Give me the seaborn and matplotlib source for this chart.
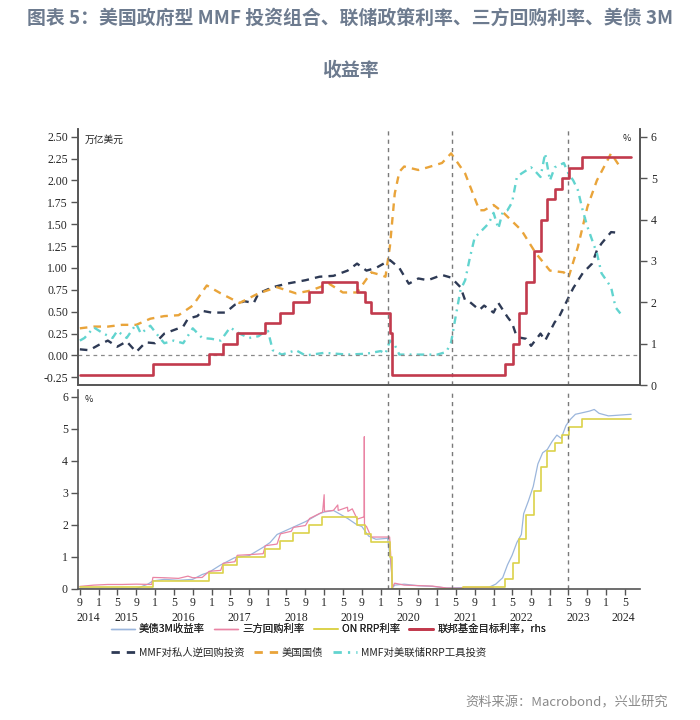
import pandas as pd
import matplotlib.pyplot as plt
import matplotlib.dates as mdates
import matplotlib.transforms as mtransforms
from matplotlib.lines import Line2D
import seaborn as sns

# --- dados ---

# MMF对私人逆回购投资 (万亿美元)
private_dates = ["2014-09", "2014-11", "2015-01", "2015-03", "2015-05", "2015-07", "2015-09", "2015-11",
                 "2016-01", "2016-03", "2016-05", "2016-07", "2016-08", "2016-10", "2016-11", "2017-01",
                 "2017-04", "2017-06", "2017-08", "2017-10", "2017-11", "2018-02", "2018-05", "2018-09",
                 "2018-12", "2019-03", "2019-06", "2019-08", "2019-10", "2019-12", "2020-03", "2020-05",
                 "2020-07", "2020-09", "2020-11", "2021-02", "2021-04", "2021-06", "2021-07", "2021-08",
                 "2021-10", "2021-11", "2022-01", "2022-02", "2022-04", "2022-05", "2022-06", "2022-08",
                 "2022-09", "2022-11", "2022-12", "2023-02", "2023-03", "2023-05", "2023-06", "2023-08",
                 "2023-10", "2023-11", "2023-12", "2024-02", "2024-04"]
private_vals = [0.07, 0.06, 0.12, 0.17, 0.10, 0.16, 0.04, 0.15,
                0.14, 0.25, 0.29, 0.33, 0.42, 0.45, 0.51, 0.49,
                0.49, 0.58, 0.62, 0.60, 0.71, 0.78, 0.82, 0.86,
                0.90, 0.91, 0.97, 1.05, 0.97, 1.00, 1.09, 1.00,
                0.82, 0.88, 0.86, 0.92, 0.89, 0.78, 0.63, 0.61,
                0.52, 0.57, 0.49, 0.60, 0.44, 0.37, 0.21, 0.19,
                0.11, 0.25, 0.17, 0.38, 0.44, 0.66, 0.77, 0.94,
                1.05, 1.20, 1.28, 1.41, 1.40]

# 美国国债 (万亿美元)
tsy_dates = ["2014-09", "2014-12", "2015-03", "2015-06", "2015-09", "2015-12", "2016-03", "2016-06",
             "2016-09", "2016-12", "2017-03", "2017-07", "2017-11", "2018-03", "2018-07", "2018-10",
             "2019-02", "2019-05", "2019-08", "2019-11", "2020-01", "2020-02", "2020-03", "2020-04",
             "2020-05", "2020-06", "2020-09", "2020-11", "2021-02", "2021-04", "2021-07", "2021-10",
             "2021-11", "2022-01", "2022-03", "2022-07", "2022-10", "2023-01", "2023-04", "2023-05",
             "2023-07", "2023-09", "2023-11", "2024-02", "2024-04"]
tsy_vals = [0.31, 0.33, 0.33, 0.35, 0.35, 0.42, 0.45, 0.46,
            0.57, 0.80, 0.71, 0.60, 0.71, 0.78, 0.71, 0.74,
            0.82, 0.72, 0.72, 0.95, 0.92, 0.90, 1.25, 1.85,
            2.10, 2.16, 2.12, 2.15, 2.20, 2.31, 2.08, 1.66,
            1.66, 1.72, 1.64, 1.43, 1.17, 0.97, 0.95, 0.89,
            1.24, 1.70, 2.00, 2.31, 2.15]

# MMF对美联储RRP工具投资 (万亿美元)
rrp_dates = ["2014-09", "2014-10", "2014-12", "2015-02", "2015-04", "2015-05", "2015-07", "2015-09",
             "2015-10", "2015-12", "2016-02", "2016-03", "2016-05", "2016-07", "2016-09", "2016-11",
             "2017-01", "2017-03", "2017-05", "2017-07", "2017-09", "2017-11", "2017-12", "2018-01",
             "2018-02", "2018-04", "2018-07", "2018-09", "2019-01", "2019-06", "2019-10", "2020-01",
             "2020-02", "2020-03", "2020-04", "2020-05", "2020-09", "2021-01", "2021-03", "2021-04",
             "2021-05", "2021-06", "2021-07", "2021-08", "2021-09", "2021-10", "2021-12", "2022-01",
             "2022-02", "2022-03", "2022-04", "2022-05", "2022-06", "2022-07", "2022-09", "2022-10",
             "2022-11", "2022-12", "2023-01", "2023-02", "2023-04", "2023-05", "2023-06", "2023-07",
             "2023-08", "2023-09", "2023-10", "2023-11", "2023-12", "2024-02", "2024-03", "2024-04"]
rrp_vals = [0.17, 0.20, 0.32, 0.25, 0.20, 0.28, 0.20, 0.36,
            0.25, 0.34, 0.20, 0.14, 0.17, 0.14, 0.31, 0.20,
            0.19, 0.17, 0.32, 0.25, 0.20, 0.22, 0.26, 0.28,
            0.06, 0.01, 0.06, 0.00, 0.03, 0.01, 0.02, 0.05,
            0.02, 0.17, 0.12, 0.01, 0.01, 0.01, 0.04, 0.15,
            0.45, 0.75, 0.86, 1.12, 1.35, 1.40, 1.51, 1.63,
            1.45, 1.64, 1.66, 1.75, 2.04, 2.08, 2.15, 2.10,
            2.04, 2.31, 2.00, 2.15, 2.20, 2.08, 2.00, 1.89,
            1.66, 1.47, 1.32, 1.17, 0.94, 0.78, 0.55, 0.48]

# 联邦基金目标利率 (上限, %, rhs)
ffr_dates = ["2014-09-01", "2015-12-17", "2016-12-15", "2017-03-16", "2017-06-15", "2017-12-14",
             "2018-03-22", "2018-06-14", "2018-09-27", "2018-12-20", "2019-08-01", "2019-09-19",
             "2019-10-31", "2020-03-04", "2020-03-16", "2022-03-17", "2022-05-05", "2022-06-16",
             "2022-07-28", "2022-09-22", "2022-11-03", "2022-12-15", "2023-02-02", "2023-03-23",
             "2023-05-04", "2023-07-27", "2024-06-10"]
ffr_vals = [0.25, 0.50, 0.75, 1.00, 1.25, 1.50,
            1.75, 2.00, 2.25, 2.50, 2.25, 2.00,
            1.75, 1.25, 0.25, 0.50, 1.00, 1.75,
            2.50, 3.25, 4.00, 4.50, 4.75, 5.00,
            5.25, 5.50, 5.50]

# ON RRP利率 (%)
onrrp_dates = ["2014-09-01", "2015-12-17", "2016-12-15", "2017-03-16", "2017-06-15", "2017-12-14",
               "2018-03-22", "2018-06-14", "2018-09-27", "2018-12-20", "2019-08-01", "2019-09-19",
               "2019-10-31", "2020-03-04", "2020-03-16", "2021-06-17", "2022-03-17", "2022-05-05",
               "2022-06-16", "2022-07-28", "2022-09-22", "2022-11-03", "2022-12-15", "2023-02-02",
               "2023-03-23", "2023-05-04", "2023-07-27", "2024-06-10"]
onrrp_vals = [0.05, 0.25, 0.50, 0.75, 1.00, 1.25,
              1.50, 1.75, 2.00, 2.25, 2.00, 1.70,
              1.45, 1.00, 0.00, 0.05, 0.30, 0.80,
              1.55, 2.30, 3.05, 3.80, 4.30, 4.55,
              4.80, 5.05, 5.30, 5.30]

# 三方回购利率 (%)
tgcr_dates = ["2014-09-01", "2014-12-01", "2015-03-01", "2015-06-01", "2015-09-01", "2015-12-10",
              "2015-12-18", "2016-03-01", "2016-06-01", "2016-08-01", "2016-09-01", "2016-11-01",
              "2016-12-16", "2017-03-01", "2017-03-17", "2017-06-01", "2017-06-16", "2017-09-01",
              "2017-12-01", "2017-12-15", "2018-03-01", "2018-03-23", "2018-06-01", "2018-06-15",
              "2018-09-01", "2018-09-28", "2018-12-21", "2018-12-31", "2019-01-02", "2019-03-01",
              "2019-03-29", "2019-04-01", "2019-05-31", "2019-06-03", "2019-07-01", "2019-08-02",
              "2019-09-16", "2019-09-17", "2019-09-18", "2019-10-01", "2019-11-01", "2020-02-28",
              "2020-03-05", "2020-03-17", "2020-04-01", "2020-06-01", "2020-12-01", "2021-03-01",
              "2021-06-01", "2021-06-18", "2021-12-31"]
tgcr_vals = [0.08, 0.12, 0.14, 0.14, 0.15, 0.14,
             0.36, 0.35, 0.33, 0.40, 0.35, 0.36,
             0.55, 0.58, 0.80, 0.85, 1.05, 1.07,
             1.10, 1.35, 1.40, 1.72, 1.80, 1.92,
             1.98, 2.20, 2.40, 2.94, 2.42, 2.45,
             2.62, 2.45, 2.55, 2.42, 2.50, 2.18,
             2.25, 4.75, 2.00, 1.95, 1.62, 1.62,
             1.15, 0.05, 0.18, 0.12, 0.09, 0.03,
             0.02, 0.05, 0.05]

# 美债3M收益率 (%)
bill_dates = ["2014-09-01", "2015-03-01", "2015-06-01", "2015-09-01", "2015-11-15", "2015-12-18",
              "2016-03-01", "2016-06-01", "2016-09-01", "2016-11-01", "2016-12-15", "2017-03-01",
              "2017-06-01", "2017-09-01", "2017-12-01", "2018-01-15", "2018-03-01", "2018-06-01",
              "2018-09-01", "2018-12-01", "2019-01-01", "2019-03-01", "2019-06-01", "2019-08-01",
              "2019-09-01", "2019-10-15", "2019-12-01", "2020-02-15", "2020-03-05", "2020-03-20",
              "2020-04-01", "2020-06-01", "2020-09-01", "2020-12-01", "2021-03-01", "2021-06-01",
              "2021-09-01", "2021-12-01", "2022-01-15", "2022-03-01", "2022-04-01", "2022-05-01",
              "2022-06-01", "2022-06-30", "2022-07-15", "2022-08-15", "2022-09-15", "2022-10-15",
              "2022-11-15", "2022-12-15", "2023-01-15", "2023-02-15", "2023-03-15", "2023-04-15",
              "2023-05-15", "2023-06-15", "2023-08-01", "2023-09-15", "2023-10-15", "2023-11-15",
              "2024-01-15", "2024-03-15", "2024-06-10"]
bill_vals = [0.02, 0.03, 0.02, 0.01, 0.15, 0.25,
             0.30, 0.27, 0.30, 0.45, 0.52, 0.75,
             0.98, 1.04, 1.30, 1.45, 1.70, 1.90,
             2.10, 2.35, 2.40, 2.45, 2.20, 2.00,
             1.95, 1.65, 1.55, 1.58, 0.90, 0.05,
             0.12, 0.15, 0.10, 0.08, 0.03, 0.04,
             0.04, 0.05, 0.15, 0.35, 0.75, 1.05,
             1.45, 1.70, 2.35, 2.75, 3.20, 3.90,
             4.25, 4.35, 4.60, 4.80, 4.70, 5.10,
             5.30, 5.45, 5.50, 5.55, 5.60, 5.48,
             5.40, 5.42, 5.45]

event_dates = ["2020-02-20", "2021-04-05", "2023-04-25"]
years = list(range(2014, 2025))

# --- estilo ---
sns.set_theme(style="white")
plt.rcParams['font.family'] = ['Noto Sans CJK SC', 'DejaVu Sans']

c_navy = "#2e3a55"
c_orange = "#e9a43a"
c_cyan = "#62d4cf"
c_red = "#c23a4d"
c_blue = "#9bb6dc"
c_pink = "#ea84a4"
c_yellow = "#dcd24a"
spine_c = "#555555"
tick_font = {'family': 'Liberation Serif', 'size': 8.5}

x_min = pd.Timestamp("2014-08-18")
x_max = pd.Timestamp("2024-08-05")

fig = plt.figure(figsize=(7, 7.2), dpi=100)
ax1 = fig.add_axes([0.111, 0.465, 0.803, 0.356])
ax2 = fig.add_axes([0.111, 0.182, 0.803, 0.276])
ax1r = ax1.twinx()

# ==============================================================================
# Painel superior
# ==============================================================================
dash_kw = dict(linewidth=1.7, ax=ax1)
sns.lineplot(x=pd.to_datetime(private_dates), y=private_vals, color=c_navy,
             linestyle=(0, (3.2, 2.6)), **dash_kw)
sns.lineplot(x=pd.to_datetime(tsy_dates), y=tsy_vals, color=c_orange,
             linestyle=(0, (3.2, 2.6)), **dash_kw)
sns.lineplot(x=pd.to_datetime(rrp_dates), y=rrp_vals, color=c_cyan,
             linestyle=(0, (3.2, 2.2, 0.8, 2.2)), **dash_kw)
sns.lineplot(x=pd.to_datetime(ffr_dates), y=ffr_vals, color=c_red, linewidth=1.9,
             drawstyle='steps-post', ax=ax1r)

ax1.axhline(0, color="#8a8a8a", linestyle=(0, (3, 3)), linewidth=0.9)
ax1.set_xlim(x_min, x_max)
ax1.set_ylim(-0.34, 2.59)
ax1.set_yticks([i * 0.25 - 0.25 for i in range(12)])
ax1.set_yticklabels([f"{i * 0.25 - 0.25:.2f}" for i in range(12)], fontdict=tick_font)
ax1r.set_ylim(0, 6.19)
ax1r.set_yticks(range(7))
ax1r.set_yticklabels([str(i) for i in range(7)], fontdict=tick_font)
ax1.set_xticks([])
ax1r.set_xlim(x_min, x_max)

for a in (ax1, ax1r):
    a.set_xlabel("")
    a.set_ylabel("")
    a.spines['top'].set_visible(False)
    for s in ('left', 'right', 'bottom'):
        a.spines[s].set_color(spine_c)
        a.spines[s].set_linewidth(1.2)
ax1.tick_params(axis='y', direction='out', length=5, width=1, color=spine_c, pad=2, left=True)
ax1r.tick_params(axis='y', direction='out', length=5, width=1, color=spine_c, pad=3, right=True)

ax1.text(0.012, 0.975, "万亿美元", transform=ax1.transAxes, fontsize=7, va='top', ha='left', color="#222222")
ax1r.text(0.985, 0.98, "%", transform=ax1.transAxes, fontsize=6.5, va='top', ha='right', color="#222222")

# ==============================================================================
# Painel inferior
# ==============================================================================
thin_kw = dict(linewidth=0.9, ax=ax2)
sns.lineplot(x=pd.to_datetime(bill_dates), y=bill_vals, color=c_blue, **thin_kw)
sns.lineplot(x=pd.to_datetime(tgcr_dates), y=tgcr_vals, color=c_pink, **thin_kw)
sns.lineplot(x=pd.to_datetime(onrrp_dates), y=onrrp_vals, color=c_yellow, drawstyle='steps-post',
             linewidth=1.2, ax=ax2)

ax2.set_xlim(x_min, x_max)
ax2.set_ylim(0, 6.2)
ax2.set_yticks(range(7))
ax2.set_yticklabels([str(i) for i in range(7)], fontdict=tick_font)
ax2.set_xlabel("")
ax2.set_ylabel("")
ax2.xaxis.set_major_locator(mdates.MonthLocator(bymonth=[1, 5, 9]))
ax2.xaxis.set_major_formatter(plt.FuncFormatter(lambda v, p: str(mdates.num2date(v).month)))
for lab in ax2.get_xticklabels():
    lab.set_fontfamily('Liberation Serif')
ax2.tick_params(axis='x', labelsize=8.5, direction='out', length=4, width=1, color=spine_c, pad=2, bottom=True)
ax2.tick_params(axis='y', direction='out', length=5, width=1, color=spine_c, pad=2, left=True)
for s in ('top', 'right'):
    ax2.spines[s].set_visible(False)
for s in ('left', 'bottom'):
    ax2.spines[s].set_color(spine_c)
    ax2.spines[s].set_linewidth(1.2)
ax2.text(0.012, 0.975, "%", transform=ax2.transAxes, fontsize=6.5, va='top', ha='left', color="#222222")

# rótulos dos anos, centrados na parte visível de cada ano
trans = mtransforms.blended_transform_factory(ax2.transData, ax2.transAxes)
for y in years:
    start = max(pd.Timestamp(f"{y}-01-01"), x_min)
    end = min(pd.Timestamp(f"{y}-12-31"), x_max)
    mid = start + (end - start) / 2
    ax2.text(mdates.date2num(mid), -0.148, str(y), transform=trans, ha='center', va='center',
             fontfamily='Liberation Serif', fontsize=8.5, color="#222222")

# linhas verticais de eventos
for d in event_dates:
    for a in (ax1, ax2):
        a.axvline(pd.Timestamp(d), color="#7a7a7a", linestyle=(0, (3, 3)), linewidth=1.0)

# ==============================================================================
# Legenda
# ==============================================================================
row1 = [Line2D([], [], color=c_blue, lw=1.0), Line2D([], [], color=c_pink, lw=1.0),
        Line2D([], [], color=c_yellow, lw=1.2), Line2D([], [], color=c_red, lw=2.0)]
row1_lab = ["美债3M收益率", "三方回购利率", "ON RRP利率", "联邦基金目标利率，rhs"]
row2 = [Line2D([], [], color=c_navy, lw=2.0, linestyle=(0, (3, 2.5))),
        Line2D([], [], color=c_orange, lw=2.0, linestyle=(0, (3, 2.5))),
        Line2D([], [], color=c_cyan, lw=2.0, linestyle=(0, (3, 2.2, 0.8, 2.2)))]
row2_lab = ["MMF对私人逆回购投资", "美国国债", "MMF对美联储RRP工具投资"]

leg_kw = dict(frameon=False, fontsize=7.5, handlelength=2.3, handletextpad=0.4,
              columnspacing=0.9, borderpad=0, borderaxespad=0)
leg1 = fig.legend(row1, row1_lab, loc='center left', bbox_to_anchor=(0.158, 0.126), ncol=4, **leg_kw)
fig.add_artist(leg1)
fig.legend(row2, row2_lab, loc='center left', bbox_to_anchor=(0.158, 0.093), ncol=3, **leg_kw)

# ==============================================================================
# Título e fonte
# ==============================================================================
title_c = "#6d7b8f"
fig.text(0.5, 1 - 18 / 720, "图表 5：美国政府型 MMF 投资组合、联储政策利率、三方回购利率、美债 3M",
         ha='center', va='center', fontsize=13.6, fontweight='bold', color=title_c)
fig.text(0.5, 1 - 70 / 720, "收益率", ha='center', va='center', fontsize=13.6,
         fontweight='bold', color=title_c)
fig.text(668 / 700, 1 - 703 / 720, "资料来源：Macrobond，兴业研究", ha='right', va='center',
         fontsize=9.5, color="#8a8a8a")

plt.savefig('out.png', dpi=100)
